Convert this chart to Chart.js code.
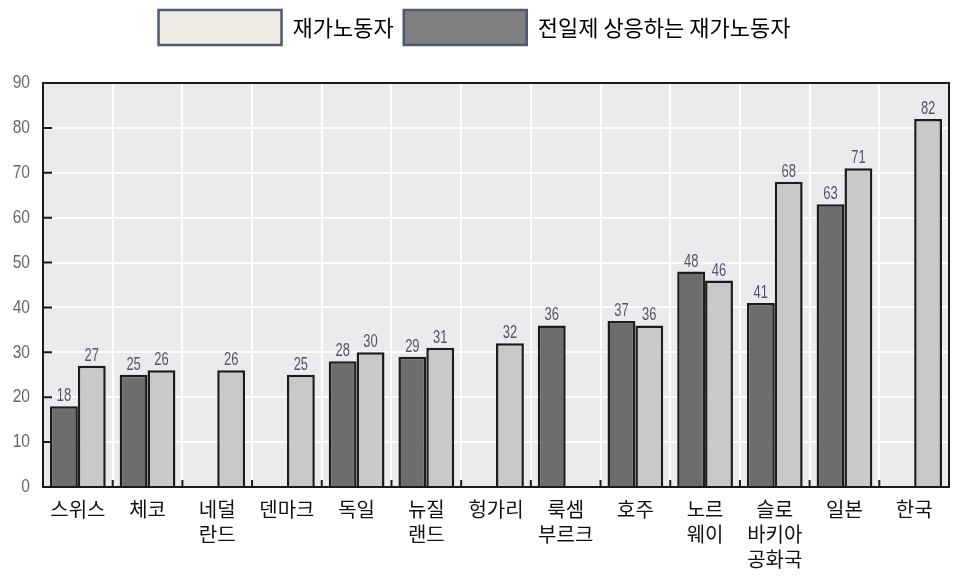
<!DOCTYPE html>
<html lang="ko">
<head>
<meta charset="UTF-8">
<title>재가노동자 비교</title>
<script src="https://cdn.jsdelivr.net/npm/chart.js"></script>
<style>
  html, body { margin: 0; padding: 0; background: #fff; }
  #wrap { width: 957px; height: 578px; }
</style>
</head>
<body>
<div id="wrap"><canvas id="chart"></canvas></div>
<script>
// categories (multi-line labels as arrays)
const countries = ['스위스', '체코', ['네덜', '란드'], '덴마크', '독일', ['뉴질', '랜드'], '헝가리',
  ['룩셈', '부르크'], '호주', ['노르', '웨이'], ['슬로', '바키아', '공화국'], '일본', '한국'];
// 전일제 상응하는 재가노동자 (dark bars, left in each group)
const fullTimeEquiv = [18, 25, null, null, 28, 29, null, 36, 37, 48, 41, 63, null];
// 재가노동자 (light bars, right in each group)
const homeWorkers = [27, 26, 26, 25, 30, 31, 32, null, 36, 46, 68, 71, 82];
const legendNames = ['재가노동자', '전일제 상응하는 재가노동자'];

// condensed digits: Liberation Sans squeezed horizontally
function narrowText(ctx, text, x, y, size, squeeze, align) {
  ctx.save();
  ctx.font = size + 'px "Liberation Sans", Arial, sans-serif';
  ctx.textAlign = align;
  ctx.translate(x, y);
  ctx.scale(squeeze, 1);
  ctx.fillText(text, 0, 0);
  ctx.restore();
}

const frame = {
  id: 'frame',
  beforeLayout(chart) {
    // leave room between legend and plot
    const lg = chart.legend;
    if (lg && !lg._fixed) {
      const fit = lg.fit.bind(lg);
      lg.fit = function () { fit(); this.height = 83; };
      lg._fixed = true;
    }
  },
  beforeDraw(chart) {
    const { ctx, chartArea: a } = chart;
    ctx.save();
    ctx.fillStyle = '#ebebed';
    ctx.fillRect(a.left, a.top, a.right - a.left, a.bottom - a.top);
    ctx.restore();
  },
  afterDatasetsDraw(chart) {
    const ctx = chart.ctx;
    ctx.save();
    ctx.fillStyle = '#55556a';
    ctx.textBaseline = 'alphabetic';
    chart.data.datasets.forEach((ds, i) => {
      chart.getDatasetMeta(i).data.forEach((bar, j) => {
        if (ds.data[j] == null) return;
        narrowText(ctx, String(ds.data[j]), bar.x, bar.y - 5, 18, 0.72, 'center');
      });
    });
    ctx.restore();
  },
  afterDraw(chart) {
    const { ctx, chartArea: a, scales } = chart;
    ctx.save();
    // value axis labels
    ctx.fillStyle = '#666';
    ctx.textBaseline = 'middle';
    scales.y.ticks.forEach(t => {
      narrowText(ctx, String(t.value), 30, scales.y.getPixelForValue(t.value), 19, 0.82, 'right');
    });
    ctx.strokeStyle = '#1a1a1a';
    ctx.lineWidth = 2;
    ctx.beginPath();
    // inward ticks on the value axis
    scales.y.ticks.forEach(t => {
      const y = scales.y.getPixelForValue(t.value);
      ctx.moveTo(a.left, y);
      ctx.lineTo(a.left + 9, y);
    });
    // inward ticks between categories
    for (let i = 1; i < countries.length; i++) {
      const x = (scales.x.getPixelForValue(i - 1) + scales.x.getPixelForValue(i)) / 2;
      ctx.moveTo(x, a.bottom);
      ctx.lineTo(x, a.bottom - 7);
    }
    ctx.stroke();
    ctx.strokeRect(a.left, a.top, a.right - a.left, a.bottom - a.top);
    ctx.restore();
  }
};

new Chart(document.getElementById('chart'), {
  type: 'bar',
  data: {
    labels: countries,
    datasets: [
      {
        label: legendNames[1],
        data: fullTimeEquiv,
        backgroundColor: '#6c6d6f',
        borderColor: '#1c1c1c',
        borderWidth: 2.5,
        categoryPercentage: 0.8,
        barPercentage: 1.0
      },
      {
        label: legendNames[0],
        data: homeWorkers,
        backgroundColor: '#c8c9cb',
        borderColor: '#1c1c1c',
        borderWidth: 2.5,
        categoryPercentage: 0.8,
        barPercentage: 1.0
      }
    ]
  },
  options: {
    responsive: true,
    maintainAspectRatio: false,
    animation: false,
    layout: { padding: { left: 0, right: 8, top: 0, bottom: 0 } },
    plugins: {
      tooltip: { enabled: false },
      legend: {
        position: 'top',
        labels: {
          boxWidth: 123,
          boxHeight: 35,
          padding: 10,
          color: '#222',
          font: { family: '"Noto Sans CJK KR", sans-serif', size: 22 },
          generateLabels() {
            return [
              { text: legendNames[0], fillStyle: '#eeebe4', strokeStyle: '#4d5b70', lineWidth: 2.5, datasetIndex: 1 },
              { text: legendNames[1], fillStyle: '#7f7f7f', strokeStyle: '#4d5b70', lineWidth: 2.5, datasetIndex: 0 }
            ];
          }
        }
      }
    },
    scales: {
      x: {
        afterFit(s) { s.height = 91; },
        grid: { color: '#ffffff', lineWidth: 2, drawTicks: false, offset: true },
        border: { display: false },
        ticks: {
          padding: 10,
          maxRotation: 0,
          autoSkip: false,
          color: '#111',
          font: { family: '"Noto Sans CJK KR", sans-serif', size: 20, lineHeight: 1.25 }
        }
      },
      y: {
        min: 0,
        max: 90,
        afterFit(s) { s.width = 43; },
        grid: { color: '#ffffff', lineWidth: 2, drawTicks: false },
        border: { display: false },
        ticks: { stepSize: 10, display: false }
      }
    }
  },
  plugins: [frame]
});
</script>
</body>
</html>
